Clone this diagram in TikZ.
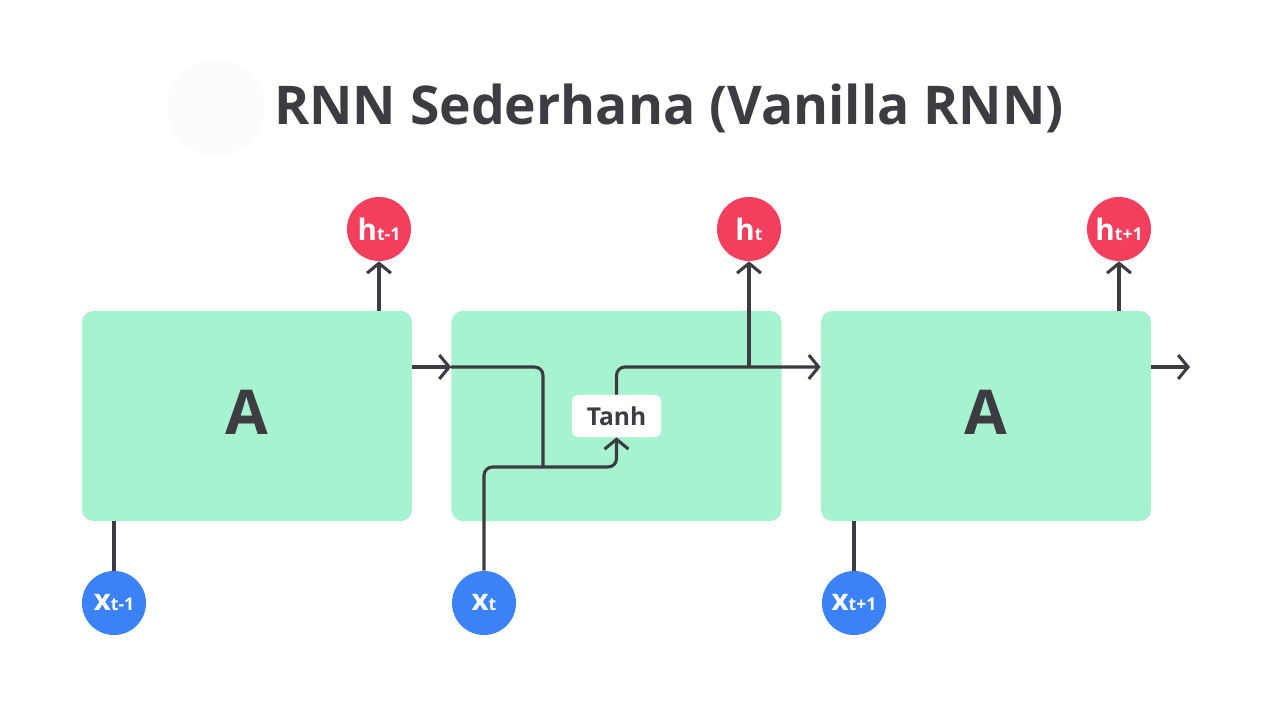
\documentclass[tikz,border=0pt]{standalone}
\usepackage{fontspec}
\setmainfont{Open Sans}
\usetikzlibrary{arrows.meta}

\definecolor{cellgreen}{RGB}{167,243,208}
\definecolor{outred}{RGB}{243,63,94}
\definecolor{inblue}{RGB}{59,130,246}
\definecolor{wire}{RGB}{60,60,66}

\tikzset{
  cell/.style = {fill=cellgreen, rounded corners=8pt, minimum width=8.25cm, minimum height=5.25cm, inner sep=0pt},
  hvert/.style = {circle, fill=outred, minimum size=1.6cm, inner sep=0pt, text=white, font=\bfseries},
  xvert/.style = {circle, fill=inblue, minimum size=1.6cm, inner sep=0pt, text=white, font=\bfseries},
  wireline/.style = {draw=wire, line width=2.2pt},
  wirearrow/.style = {wireline, -{Straight Barb[length=7pt,width=17pt,line width=2.2pt]}},
  gatebox/.style = {fill=white, rounded corners=4pt, minimum width=2.225cm, minimum height=1.05cm, inner sep=0pt, text=wire, font=\fontsize{17.5}{17.5}\selectfont\bfseries}
}
\newcommand{\hlab}[1]{{\fontsize{21}{21}\selectfont h}{\fontsize{12.5}{12.5}\selectfont #1}}
\newcommand{\xlab}[1]{{\fontsize{21}{21}\selectfont x}{\fontsize{12.5}{12.5}\selectfont #1}}

\begin{document}
\begin{tikzpicture}[x=0.025cm, y=-0.025cm]
                \useasboundingbox (0,0) rectangle (1280,720);
                \fill[black!1.2] (216,107) circle (49);
                \node[anchor=base, text=wire, font=\fontsize{38}{38}\selectfont\bfseries] (title) at (669,125) {RNN Sederhana (Vanilla RNN)};
                \node[cell] (A1) at (247,416) {};
                \node[cell] (A2) at (616.5,416) {};
                \node[cell] (A3) at (986,416) {};
                \node[anchor=base, text=wire, font=\fontsize{44}{44}\selectfont\bfseries] (a1) at (247,435) {A};
                \node[anchor=base, text=wire, font=\fontsize{44}{44}\selectfont\bfseries] (a3) at (986,435) {A};
                \node[hvert] (h1) at (379,229) {\hlab{t-1}};
                \node[hvert] (h2) at (749,229) {\hlab{t}};
                \node[hvert] (h3) at (1119,229) {\hlab{t+1}};
                \node[xvert] (x1) at (114,603) {\xlab{t-1}};
                \node[xvert] (x2) at (484,603) {\xlab{t}};
                \node[xvert] (x3) at (854,603) {\xlab{t+1}};
                \node[gatebox] (tanh) at (616.5,416) {Tanh};
                \coordinate (s) at (0,367);
                \coordinate (m) at (543,467);
                \coordinate (out) at (1190,367);
                % outputs
                \draw[wirearrow] (h1 |- A1.north) -- (h1.south);
                \draw[wirearrow] (h3 |- A3.north) -- (h3.south);
                \draw[wirearrow] (h2 |- s) -- (h2.south);
                % inputs
                \draw[wireline] (x1.north) -- (x1 |- A1.south);
                \draw[wireline] (x3.north) -- (x3 |- A3.south);
                \draw[wirearrow, rounded corners=6pt] (x2.north) -- (x2 |- m) -- (tanh |- m) -- (tanh.south);
                % hidden state
                \draw[wirearrow] (A1.east |- s) -- (A2.west |- s);
                \draw[wireline, rounded corners=6pt] (A2.west |- s) -- (m |- s) -- (m);
                \draw[wirearrow, rounded corners=6pt] (tanh.north) -- (tanh |- s) -- (A3.west |- s);
                \draw[wirearrow] (A3.east |- s) -- (out);
                \end{tikzpicture}
\end{document}
